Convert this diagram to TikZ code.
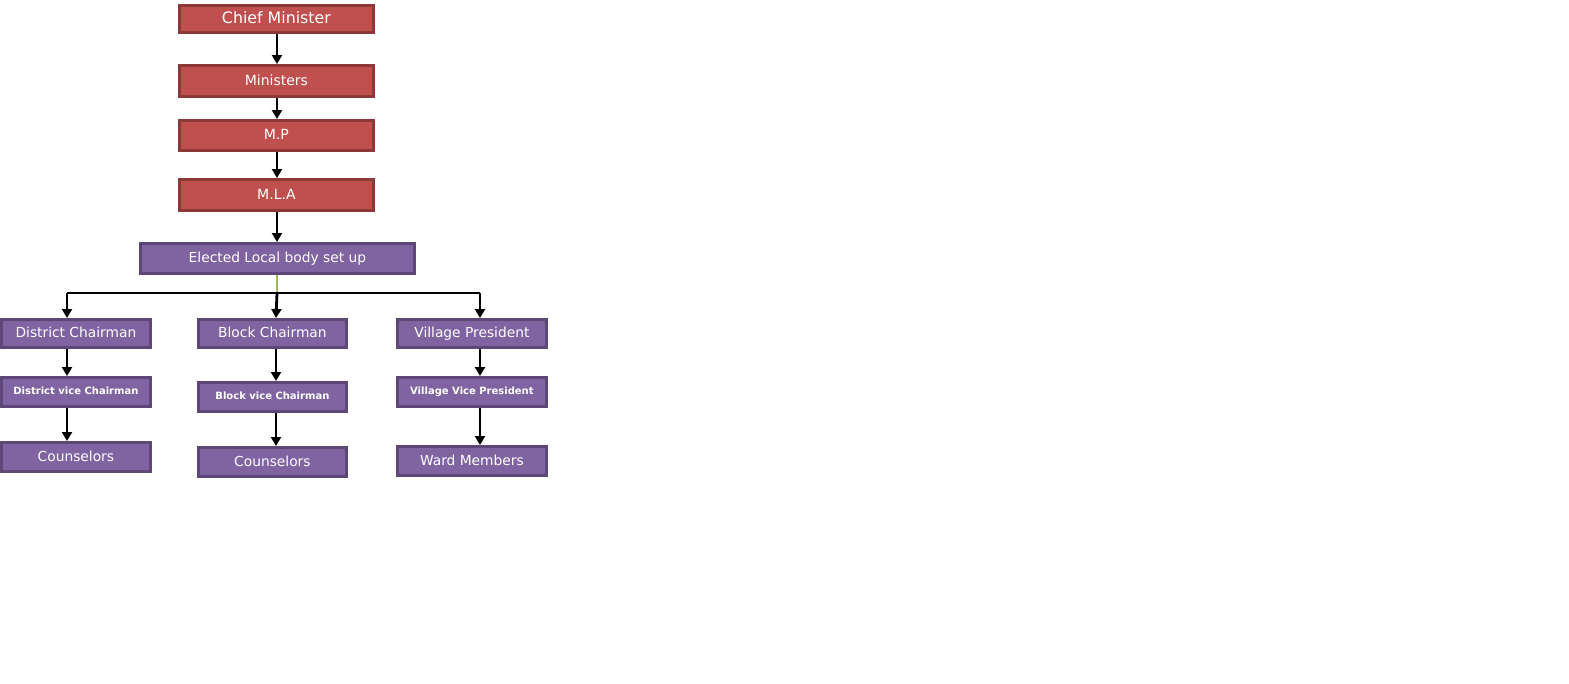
\documentclass[tikz,border=0pt]{standalone}
\usepackage{fontspec}
\setmainfont{DejaVu Sans}
\usetikzlibrary{arrows.meta}
\definecolor{redfill}{HTML}{C0504D}
\definecolor{redline}{HTML}{8C3836}
\definecolor{purfill}{HTML}{8064A2}
\definecolor{purline}{HTML}{5C4776}
\definecolor{greenline}{HTML}{9BBB59}
\begin{document}
\begin{tikzpicture}[x=1pt,y=-1pt,
  box/.style={draw, line width=2.8pt, text=white, inner sep=0pt, anchor=north west},
  redbox/.style={box, fill=redfill, draw=redline},
  purbox/.style={box, fill=purfill, draw=purline},
  conn/.style={line width=2.8pt, -{Triangle[length=9pt,width=10pt]}}]
\useasboundingbox (0,0) rectangle (1569,683);
\newcommand{\bx}[7]{\node[#1, minimum width=#4pt, minimum height=#5pt, font=#6] (#2) at (#3) {\raisebox{2pt}{#7}};}
\bx{redbox}{cm}{178,4}{194}{27}{\fontsize{15.8}{17}\selectfont}{Chief Minister}
\bx{redbox}{min}{178,64}{194}{31}{\fontsize{14}{15}\selectfont}{Ministers}
\bx{redbox}{mp}{178,119}{194}{30}{\fontsize{14}{15}\selectfont}{M.P}
\bx{redbox}{mla}{178,178}{194}{31}{\fontsize{14}{15}\selectfont}{M.L.A}
\bx{purbox}{elb}{139,242}{274}{30}{\fontsize{13.8}{15}\selectfont}{Elected Local body set up}
\bx{purbox}{dc}{0,318}{149}{28}{\fontsize{13.8}{15}\selectfont}{District Chairman}
\bx{purbox}{bc}{197,318}{148}{28}{\fontsize{13.8}{15}\selectfont}{Block Chairman}
\bx{purbox}{vp}{396,318}{149}{28}{\fontsize{13.8}{15}\selectfont}{Village President}
\bx{purbox}{dvc}{0,376}{149}{29}{\fontsize{10}{11}\selectfont\bfseries}{District vice Chairman}
\bx{purbox}{bvc}{197,381}{148}{29}{\fontsize{10}{11}\selectfont\bfseries}{Block vice Chairman}
\bx{purbox}{vvp}{396,376}{149}{29}{\fontsize{10}{11}\selectfont\bfseries}{Village Vice President}
\bx{purbox}{dco}{0,441}{149}{29}{\fontsize{13.8}{15}\selectfont}{Counselors}
\bx{purbox}{bco}{197,446}{148}{29}{\fontsize{13.8}{15}\selectfont}{Counselors}
\bx{purbox}{wm}{396,445}{149}{29}{\fontsize{13.8}{15}\selectfont}{Ward Members}
\coordinate (xm) at (277,0);
\coordinate (x1) at (67,0);
\coordinate (x2) at (276,0);
\coordinate (x3) at (480,0);
\coordinate (hub) at (277,293);
\coordinate (hl) at (67,293);
\coordinate (hr) at (480,293);
\draw[conn] (cm.south -| xm) -- (min.north -| xm);
\draw[conn] (min.south -| xm) -- (mp.north -| xm);
\draw[conn] (mp.south -| xm) -- (mla.north -| xm);
\draw[conn] (mla.south -| xm) -- (elb.north -| xm);
\draw[greenline, line width=2.8pt] (elb.south -| xm) -- (hub);
\draw[line width=2.8pt] (hl) -- (hub) -- (hr);
\draw[conn] (hl) -- (dc.north -| x1);
\draw[conn] (hub) -- (bc.north -| x2);
\draw[conn] (hr) -- (vp.north -| x3);
\draw[conn] (dc.south -| x1) -- (dvc.north -| x1);
\draw[conn] (dvc.south -| x1) -- (dco.north -| x1);
\draw[conn] (bc.south -| x2) -- (bvc.north -| x2);
\draw[conn] (bvc.south -| x2) -- (bco.north -| x2);
\draw[conn] (vp.south -| x3) -- (vvp.north -| x3);
\draw[conn] (vvp.south -| x3) -- (wm.north -| x3);
\end{tikzpicture}
\end{document}
